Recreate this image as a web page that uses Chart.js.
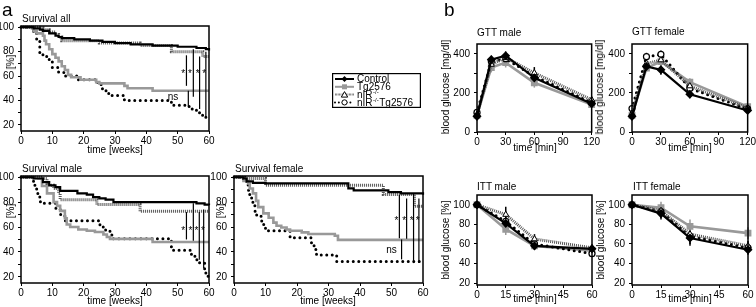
<!DOCTYPE html>
<html>
<head>
<meta charset="utf-8">
<script src="https://cdn.jsdelivr.net/npm/chart.js@4.4.0/dist/chart.umd.min.js"></script>
<style>
body { margin:0; background:#fff; width:756px; height:307px; overflow:hidden; position:relative; font-family:"Liberation Sans", Arial, sans-serif; }
canvas { position:absolute; }
.t { position:absolute; font-size:10px; line-height:10px; white-space:nowrap; color:#000; }
.c { transform:translate(-50%,-50%); }
.r { transform:translate(-50%,-50%) rotate(-90deg); }
</style>
</head>
<body>
<script>
// ---- survival curves, [week, % alive] ----
var allControl = [[0,100],[4,99],[6,98],[7,97],[9,95],[11,93],[12,92],[13,91],[17,90],[22,89],[26,88],[30,87],[35,86],[42,85],[50,84],[56,83],[59,82],[60,81]];
var allTg = [[0,100],[3.5,99],[4,97],[5,95],[7,93],[7.5,89],[8,86],[9,82],[10,78],[11,75],[12,72],[13,68],[14,65],[15,61],[16,59],[19,57],[24,55],[25,54],[33,52],[34,50],[42,48],[60,48]];
var allNir = [[0,100],[6,99.5],[7,98],[9,96],[11,94],[12,92],[13,89],[25,87],[38,85],[48,80],[58,76],[60,76]];
var allNirTg = [[0,100],[4,96],[5,89],[6,79],[7,76],[9,72],[10,67],[12,63],[14,60],[18,57],[24.5,53],[26,48],[28,44],[33,40],[48,36],[53,35],[54.5,33],[56,30],[57.5,28],[59,25],[60,25]];
var allSig = [[52.8,77,52],[53.4,48,35],[55,82,43],[57,76,33],[59,80,27]];
var allStars = [[51.8,63],[53.9,63],[56.4,63],[58.5,63]];
var allNs = [48.5,43];

var maleControl = [[0,100],[4,99],[7,96],[9,93.5],[11,92],[12.5,89],[18,87],[21,86],[23,84],[25,83],[27,82],[29.5,80],[56,79],[58.6,78],[60,77.5]];
var maleTg = [[0,100],[4,99.5],[5.6,99],[6.7,93],[8.3,87],[10.4,80],[11.5,77],[12.5,73],[14,67],[14.6,62],[15.7,60],[18.3,58],[21,57],[23.6,56],[26.3,54],[27.4,52],[28.4,50.5],[42,48],[60,48]];
var maleNir = [[0,100],[7,99],[8.3,95],[9.3,93.5],[10.4,91],[12,87],[12.5,82],[24.2,78],[38,72.6],[60,72.6]];
var maleNirTg = [[0,100],[3.5,99],[4,93.5],[5,87],[6,83],[6.2,79],[11,75],[12.5,70],[14,65],[25.2,60],[26.3,57.5],[28.4,54.4],[29,50.5],[48,43],[48.6,41.4],[54.4,37.5],[55.5,33.6],[57,31],[58.6,26],[59,22],[59.6,20.5],[60,20.5]];
var maleSig = [[52.8,72,50],[55,79,49],[56.9,72,33.6],[58.3,74,27]];
var maleStars = [[51.8,58],[54.1,58],[56,58],[58.1,58]];

var femControl = [[0,100],[3,99],[4,96.6],[6,95.5],[10,95],[36.3,91],[38,89.5],[49,88],[53,87],[60,86]];
var femTg = [[0,100],[3,97],[4.5,95],[5,91],[6,87],[7,81],[7.7,76],[9.3,71],[11,67.5],[12.5,63.5],[13.5,61],[15,59.6],[16.7,58],[17.8,57],[21.5,55.7],[23.6,54.4],[32,53],[33,49.7],[60,49.7]];
var femNir = [[0,100],[3,99],[10,93.5],[47.4,86.2],[57.3,76.6],[60,76.6]];
var femNirTg = [[0,100],[4,95],[4.5,89.6],[5,86],[5.6,80],[6,77],[6.7,72.6],[7.2,68.7],[8.8,62],[10,57],[17.8,51.3],[24.6,45],[25.7,42],[26.2,37.5],[32.6,32.3],[60,32.3]];
var femSig = [[52.5,86,51],[53.2,50,34],[54.8,83,50.5],[57,87,31],[58.7,83,31]];
var femStars = [[51.6,66],[54,66],[56.4,66],[58.3,66]];
var femNs = [50,41];

// ---- glucose tests ----
var gttTime = [0,15,30,60,120];
var gttMaleControl = [80,370,390,277,145], gttMaleControlErr = [8,20,22,30,10];
var gttMaleTg = [85,330,355,252,140], gttMaleTgErr = [8,25,25,25,10];
var gttMaleNir = [90,345,380,302,165], gttMaleNirErr = [8,20,20,30,12];
var gttMaleNirTg = [100,360,375,285,150], gttMaleNirTgErr = [8,20,20,25,10];
var gttFemControl = [80,335,318,193,110], gttFemControlErr = [8,20,25,20,8];
var gttFemTg = [85,327,360,255,130], gttFemTgErr = [8,20,25,20,8];
var gttFemNir = [95,350,368,235,123], gttFemNirErr = [8,20,20,20,8];
var gttFemNirTg = [120,385,397,223,118], gttFemNirTgErr = [8,20,20,20,8];

var ittTime = [0,15,30,60];
var ittMaleControl = [100,81,58,55], ittMaleControlErr = [0,6,4,3];
var ittMaleTg = [100,75,58,53], ittMaleTgErr = [0,6,4,3];
var ittMaleNir = [100,90,65,56], ittMaleNirErr = [0,8,5,3];
var ittMaleNirTg = [100,83,60,50], ittMaleNirTgErr = [0,6,4,3];
var ittFemControl = [100,91,66,54], ittFemControlErr = [0,6,8,5];
var ittFemTg = [100,97,78,71], ittFemTgErr = [0,6,7,6];
var ittFemNir = [100,94,70,58], ittFemNirErr = [0,6,8,5];
var ittFemNirTg = [100,93,68,56], ittFemNirTgErr = [0,6,8,5];

// ---- ticks ----
var weekTicks = [0,10,20,30,40,50,60];
var survTicks = [20,30,40,50,60,70,80,90,100];
var survLabels = [20,40,60,80,100];
var gttXTicks = [0,30,60,90,120];
var gttYTicks = [0,100,200,300,400];
var gttYLabels = [0,200,400];
var ittXTicks = [0,15,30,45,60];
var ittYTicks = [20,40,60,80,100];
var legendNames = ['Control','Tg2576','nIR','nIR'];

var FONT = '"Liberation Sans", Arial, sans-serif';
Chart.defaults.font.family = FONT;
Chart.defaults.font.size = 10;
Chart.defaults.color = '#000';
Chart.defaults.animation = false;

var styles = {
  control: {borderColor:'#000', borderWidth:2.2, pointStyle:'rectRot', pointRadius:3, pointBackgroundColor:'#000', pointBorderColor:'#000'},
  tg: {borderColor:'#999', borderWidth:2.6, pointStyle:'rect', pointRadius:3, pointBackgroundColor:'#999', pointBorderColor:'#999'},
  nir: {borderColor:'#555', borderWidth:3, borderDash:[1,1], pointStyle:'triangle', pointRadius:3.5, pointBackgroundColor:'#fff', pointBorderColor:'#000', pointBorderWidth:1},
  nirtg: {borderColor:'#000', borderWidth:3, borderDash:[0,5.5], borderCapStyle:'round', pointStyle:'circle', pointRadius:3, pointBackgroundColor:'#fff', pointBorderColor:'#000', pointBorderWidth:1.2}
};

// box round the plot area
var frame = {
  id: 'frame',
  afterDraw: function (c) {
    var a = c.chartArea, ctx = c.ctx;
    ctx.save();
    ctx.strokeStyle = '#000';
    ctx.lineWidth = 1.5;
    ctx.strokeRect(a.left, a.top, a.right - a.left, a.bottom - a.top);
    ctx.restore();
  }
};

// significance bars, stars and "ns"
var sig = {
  id: 'sig',
  afterDatasetsDraw: function (c, args, o) {
    if (!o || !o.lines) return;
    var xs = c.scales.x, ys = c.scales.y, ctx = c.ctx;
    ctx.save();
    ctx.strokeStyle = '#000';
    ctx.lineWidth = 1.2;
    o.lines.forEach(function (l) {
      var px = xs.getPixelForValue(l[0]);
      ctx.beginPath();
      ctx.moveTo(px, ys.getPixelForValue(l[1]));
      ctx.lineTo(px, ys.getPixelForValue(l[2]));
      ctx.stroke();
    });
    ctx.fillStyle = '#000';
    ctx.textAlign = 'center';
    ctx.textBaseline = 'middle';
    ctx.font = '10px ' + FONT;
    o.stars.forEach(function (s) {
      ctx.fillText('*', xs.getPixelForValue(s[0]), ys.getPixelForValue(s[1]) + 2);
    });
    if (o.ns) ctx.fillText('ns', xs.getPixelForValue(o.ns[0]), ys.getPixelForValue(o.ns[1]));
    ctx.restore();
  }
};

// error bars from dataset.err
var errbars = {
  id: 'errbars',
  beforeDatasetsDraw: function (c) {
    var ys = c.scales.y, ctx = c.ctx;
    ctx.save();
    c.data.datasets.forEach(function (ds, i) {
      if (!ds.err) return;
      var meta = c.getDatasetMeta(i);
      ctx.strokeStyle = ds.borderColor === '#999' ? '#999' : '#000';
      ctx.lineWidth = 1.5;
      meta.data.forEach(function (pt, j) {
        var e = ds.err[j];
        if (!e) return;
        var v = ds.data[j].y;
        ctx.beginPath();
        ctx.moveTo(pt.x, ys.getPixelForValue(v + e));
        ctx.lineTo(pt.x, ys.getPixelForValue(v - e));
        ctx.stroke();
      });
    });
    ctx.restore();
  }
};
Chart.register(frame, sig, errbars);

function panel(box, xs, ys, datasets, sigOpts) {
  var L = 40, T = 8, R = 9, B = 16;
  var w = box.r - box.l + L + R, h = box.b - box.t + T + B;
  var cv = document.createElement('canvas');
  cv.width = w; cv.height = h;
  cv.style.left = (box.l - L) + 'px';
  cv.style.top = (box.t - T) + 'px';
  cv.style.width = w + 'px';
  cv.style.height = h + 'px';
  document.body.appendChild(cv);
  new Chart(cv, {
    type: 'line',
    data: { datasets: datasets },
    options: {
      responsive: false,
      animation: false,
      layout: { padding: { top: T, right: R, left: 0, bottom: 0 } },
      plugins: { legend: { display: false }, tooltip: { enabled: false }, sig: sigOpts || {} },
      scales: {
        x: {
          type: 'linear', min: xs.min, max: xs.max,
          afterFit: function (s) { s.height = B; },
          afterBuildTicks: function (s) { s.ticks = xs.ticks.map(function (v) { return { value: v }; }); },
          ticks: { autoSkip: false, maxRotation: 0, padding: 1, callback: function (v) { return xs.labels.indexOf(v) >= 0 ? String(v) : ''; } },
          grid: { drawOnChartArea: false, tickLength: 3, color: '#000', lineWidth: 1 },
          border: { display: false }
        },
        y: {
          type: 'linear', min: ys.min, max: ys.max,
          afterFit: function (s) { s.width = L; },
          afterBuildTicks: function (s) { s.ticks = ys.ticks.map(function (v) { return { value: v }; }); },
          ticks: { autoSkip: false, padding: 4, callback: function (v) { return ys.labels.indexOf(v) >= 0 ? String(v) : ''; } },
          grid: { drawOnChartArea: false, tickLength: 3, color: '#000', lineWidth: 1 },
          border: { display: false }
        }
      }
    }
  });
}

function surv(arr, st) {
  return Object.assign({
    data: arr.map(function (p) { return { x: p[0], y: p[1] }; }),
    stepped: 'before', clip: false, fill: false
  }, st, { pointRadius: 0 });
}
function gluc(t, vals, err, st) {
  return Object.assign({
    data: t.map(function (v, i) { return { x: v, y: vals[i] }; }),
    err: err, clip: false, fill: false, tension: 0
  }, st);
}

var weekAxis = { min: 0, max: 60, ticks: weekTicks, labels: weekTicks };
var survAxis = { min: 15, max: 101, ticks: survTicks, labels: survLabels };
var gttX = { min: 0, max: 120, ticks: gttXTicks, labels: gttXTicks };
var gttY = { min: 0, max: 450, ticks: gttYTicks, labels: gttYLabels };
var ittX = { min: 0, max: 60, ticks: ittXTicks, labels: ittXTicks };
var ittY = { min: 18, max: 110, ticks: ittYTicks, labels: ittYTicks };

panel({ l: 21, t: 24, r: 209, b: 131 }, weekAxis, survAxis,
  [surv(allControl, styles.control), surv(allNir, styles.nir), surv(allTg, styles.tg), surv(allNirTg, styles.nirtg)],
  { lines: allSig, stars: allStars, ns: allNs });
panel({ l: 21, t: 174, r: 209, b: 283 }, weekAxis, survAxis,
  [surv(maleControl, styles.control), surv(maleNir, styles.nir), surv(maleTg, styles.tg), surv(maleNirTg, styles.nirtg)],
  { lines: maleSig, stars: maleStars });
panel({ l: 234, t: 174, r: 423, b: 283 }, weekAxis, survAxis,
  [surv(femControl, styles.control), surv(femNir, styles.nir), surv(femTg, styles.tg), surv(femNirTg, styles.nirtg)],
  { lines: femSig, stars: femStars, ns: femNs });

panel({ l: 477, t: 42, r: 592, b: 132 }, gttX, gttY, [
  gluc(gttTime, gttMaleControl, gttMaleControlErr, styles.control),
  gluc(gttTime, gttMaleNir, gttMaleNirErr, styles.nir),
  gluc(gttTime, gttMaleNirTg, gttMaleNirTgErr, styles.nirtg),
  gluc(gttTime, gttMaleTg, gttMaleTgErr, styles.tg)]);
panel({ l: 632, t: 42, r: 748, b: 132 }, gttX, gttY, [
  gluc(gttTime, gttFemControl, gttFemControlErr, styles.control),
  gluc(gttTime, gttFemNir, gttFemNirErr, styles.nir),
  gluc(gttTime, gttFemNirTg, gttFemNirTgErr, styles.nirtg),
  gluc(gttTime, gttFemTg, gttFemTgErr, styles.tg)]);
panel({ l: 477, t: 193, r: 592, b: 285 }, ittX, ittY, [
  gluc(ittTime, ittMaleControl, ittMaleControlErr, styles.control),
  gluc(ittTime, ittMaleNir, ittMaleNirErr, styles.nir),
  gluc(ittTime, ittMaleNirTg, ittMaleNirTgErr, styles.nirtg),
  gluc(ittTime, ittMaleTg, ittMaleTgErr, styles.tg)]);
panel({ l: 632, t: 193, r: 748, b: 285 }, ittX, ittY, [
  gluc(ittTime, ittFemControl, ittFemControlErr, styles.control),
  gluc(ittTime, ittFemNir, ittFemNirErr, styles.nir),
  gluc(ittTime, ittFemNirTg, ittFemNirTgErr, styles.nirtg),
  gluc(ittTime, ittFemTg, ittFemTgErr, styles.tg)]);

// text labels
function txt(s, x, y, cls, size) {
  var d = document.createElement('div');
  d.className = 't ' + (cls || '');
  d.textContent = s;
  d.style.left = x + 'px';
  d.style.top = y + 'px';
  if (size) { d.style.fontSize = size + 'px'; d.style.lineHeight = size + 'px'; }
  document.body.appendChild(d);
}
txt('a', 2, 0, '', 19);
txt('b', 444, 0, '', 19);
txt('Survival all', 22, 14);
txt('[%]', 11, 62, 'r');
txt('time [weeks]', 115, 150, 'c');
txt('Survival male', 22, 164);
txt('[%]', 11, 211, 'r');
txt('time [weeks]', 115, 301, 'c');
txt('Survival female', 235, 164);
txt('[%]', 221, 211, 'r');
txt('time [weeks]', 328, 301, 'c');
txt('GTT male', 477, 28);
txt('blood glucose [mg/dl]', 446, 87, 'r');
txt('time [min]', 535, 148, 'c');
txt('GTT female', 632, 27);
txt('blood glucose [mg/dl]', 600, 87, 'r');
txt('time [min]', 690, 148, 'c');
txt('ITT male', 477, 182);
txt('blood glucose [%]', 446, 240, 'r');
txt('time [min]', 535, 299, 'c');
txt('ITT female', 633, 182);
txt('blood glucose [%]', 601, 240, 'r');
txt('time [min]', 690, 299, 'c');

// legend box
(function () {
  var x0 = 332, y0 = 73, w = 89, h = 35;
  var cv = document.createElement('canvas');
  cv.width = w; cv.height = h;
  cv.style.left = x0 + 'px'; cv.style.top = y0 + 'px';
  document.body.appendChild(cv);
  var ctx = cv.getContext('2d');
  ctx.strokeStyle = '#000'; ctx.lineWidth = 1.2;
  ctx.strokeRect(0.6, 0.6, w - 1.2, h - 1.2);
  var keys = ['control', 'tg', 'nir', 'nirtg'];
  keys.forEach(function (k, i) {
    var st = styles[k], y = 6 + i * 7.8;
    ctx.save();
    ctx.strokeStyle = st.borderColor;
    ctx.lineWidth = Math.min(st.borderWidth, 2);
    ctx.setLineDash(st.borderDash ? st.borderDash.map(function (d) { return d * 0.7; }) : []);
    ctx.lineCap = st.borderCapStyle || 'butt';
    ctx.beginPath(); ctx.moveTo(3, y); ctx.lineTo(22, y); ctx.stroke();
    ctx.restore();
    ctx.fillStyle = st.pointBackgroundColor;
    ctx.strokeStyle = st.pointBorderColor;
    ctx.lineWidth = 1;
    var mx = 12.5;
    ctx.beginPath();
    if (k === 'control') { ctx.moveTo(mx, y - 3); ctx.lineTo(mx + 3, y); ctx.lineTo(mx, y + 3); ctx.lineTo(mx - 3, y); ctx.closePath(); ctx.fill(); }
    else if (k === 'tg') { ctx.rect(mx - 2.5, y - 2.5, 5, 5); ctx.fill(); }
    else if (k === 'nir') { ctx.moveTo(mx, y - 3); ctx.lineTo(mx + 3.2, y + 2.5); ctx.lineTo(mx - 3.2, y + 2.5); ctx.closePath(); ctx.fill(); ctx.stroke(); }
    else { ctx.arc(mx, y, 2.6, 0, Math.PI * 2); ctx.fill(); ctx.stroke(); }
    ctx.fillStyle = '#000';
    ctx.textBaseline = 'middle';
    ctx.font = '10px ' + FONT;
    var tx = 25;
    ctx.fillText(legendNames[i], tx, y + 0.5);
    if (k === 'nir' || k === 'nirtg') {
      tx += ctx.measureText(legendNames[i]).width;
      ctx.font = '6px ' + FONT;
      ctx.fillText('-/-', tx + 0.5, y - 2);
      tx += ctx.measureText('-/-').width + 1;
      if (k === 'nirtg') { ctx.font = '10px ' + FONT; ctx.fillText('Tg2576', tx, y + 0.5); }
    }
  });
})();
</script>
</body>
</html>
